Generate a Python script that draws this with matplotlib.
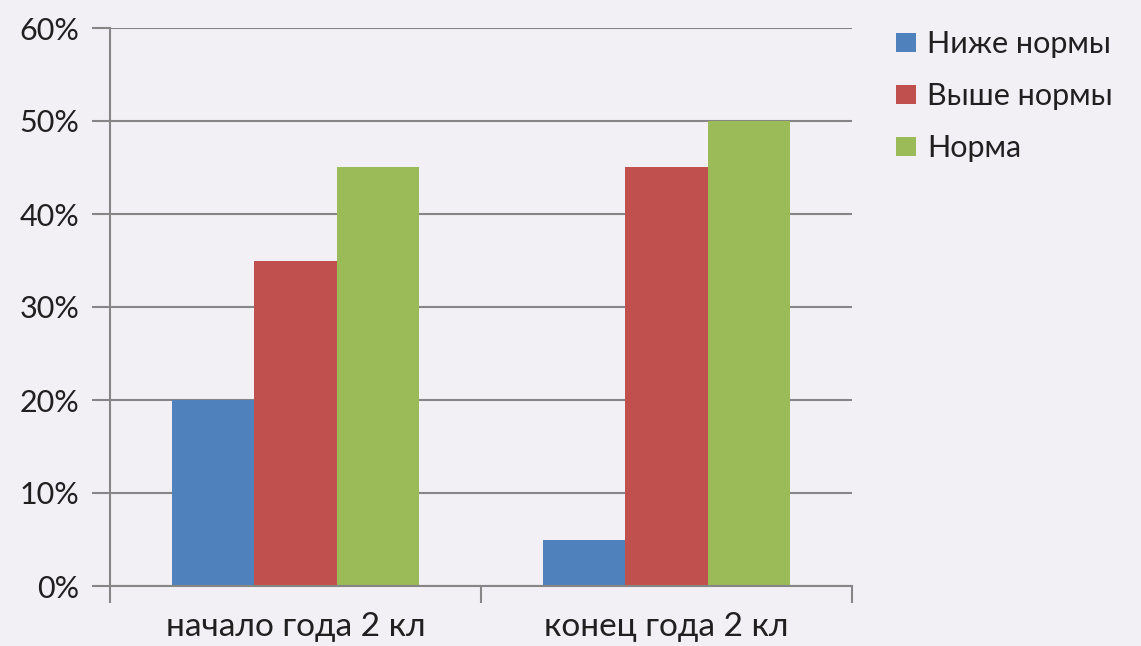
import matplotlib
matplotlib.use("Agg")
import matplotlib.pyplot as plt
import numpy as np
from matplotlib.ticker import FuncFormatter, FixedLocator

categories = ["начало года 2 кл", "конец года 2 кл"]
series_names = ["Ниже нормы", "Выше нормы", "Норма"]
below_norm = [20, 5]
above_norm = [35, 45]
norm = [45, 50]
y_ticks = [0, 10, 20, 30, 40, 50, 60]

colors = ["#4F81BD", "#C0504D", "#9BBB59"]
bg = "#F3F0F5"
grid_c = "#868686"
text_c = "#202020"

plt.rcParams["font.family"] = ["Lato", "DejaVu Sans"]

fig = plt.figure(figsize=(11.41, 6.46), dpi=100, facecolor=bg)
ax = fig.add_axes([110 / 1141, 1 - 586 / 646, (852 - 110) / 1141, (586 - 28) / 646])
ax.set_facecolor(bg)

x = np.arange(len(categories)) + 0.5
w = 1 / 4.5
for i, (name, vals) in enumerate(zip(series_names, [below_norm, above_norm, norm])):
    ax.bar(x + (i - 1) * w, vals, width=w, color=colors[i], label=name, zorder=3)

ax.set_xlim(0, len(categories))
ax.set_ylim(0, 60)

ax.yaxis.set_major_locator(FixedLocator(y_ticks))
ax.yaxis.set_major_formatter(FuncFormatter(lambda v, p: f"{v:.0f}%"))
ax.grid(axis="y", color=grid_c, linewidth=1.5, zorder=0)

ax.set_xticks(x)
ax.set_xticklabels(categories)
ax.set_xticks(np.arange(len(categories) + 1), minor=True)
ax.tick_params(axis="x", which="major", length=0, pad=19, labelsize=24, labelcolor=text_c)
ax.tick_params(axis="x", which="minor", length=12, width=1.5, color=grid_c, direction="out")
ax.tick_params(axis="y", length=13, width=1.5, color=grid_c, direction="out", pad=9,
               labelsize=22, labelcolor=text_c)

for s in ["top", "right"]:
    ax.spines[s].set_visible(False)
for s in ["left", "bottom"]:
    ax.spines[s].set_color(grid_c)
    ax.spines[s].set_linewidth(1.5)
    ax.spines[s].set_zorder(4)

handles, labels = ax.get_legend_handles_labels()
leg = fig.legend(handles, labels, loc="upper left", bbox_to_anchor=(872 / 1141, 1 - 6 / 646),
                 frameon=False, fontsize=22, handlelength=0.65, handleheight=0.55,
                 handletextpad=0.35, labelspacing=0.78, labelcolor=text_c,
                 borderpad=0.3)

fig.savefig("out.png", dpi=100, facecolor=bg)
